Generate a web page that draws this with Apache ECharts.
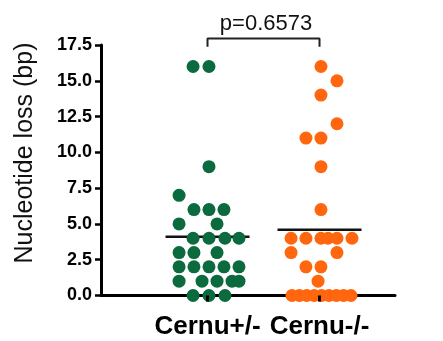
<!DOCTYPE html>
<html>
<head>
<meta charset="utf-8">
<script src="https://cdn.jsdelivr.net/npm/echarts@6/dist/echarts.min.js"></script>
<style>html,body{margin:0;padding:0;background:#fff}#c{width:443px;height:341px}</style>
</head>
<body>
<div id="c"></div>
<script>
// ---- data ----
const categories = ['Cernu+/-', 'Cernu-/-'];
const yTicks = [0, 2.5, 5, 7.5, 10, 12.5, 15, 17.5];
const yAxisTitle = 'Nucleotide loss (bp)';
const pValueText = 'p=0.6573';
// nucleotide loss per clone (bp)
const greenValues = [16, 16, 9, 7, 6, 6, 6, 5, 5, 4, 4, 4, 4, 3, 3, 3, 2, 2, 2, 2, 2, 1, 1, 1, 1, 1, 0, 0, 0];
// horizontal scatter (jitter) of each dot, in fractions of the group spacing
const greenJitter = [-0.129, 0.013, 0.013, -0.254, -0.121, 0.013, 0.147, -0.254, 0.085,
  -0.129, 0.013, 0.156, 0.281, -0.254, -0.121, 0.085,
  -0.254, -0.121, 0.013, 0.147, 0.281, -0.254, -0.049, 0.085, 0.219, 0.281,
  -0.129, 0.013, 0.156];
const orangeValues = [16, 15, 14, 12, 11, 11, 9, 6, 4, 4, 4, 4, 4, 4, 3, 3, 2, 2, 1, 0, 0, 0, 0, 0, 0, 0, 0, 0];
const orangeJitter = [0.013, 0.156, 0.013, 0.156, -0.121, 0.013, 0.013, 0.013,
  -0.254, -0.121, 0.013, 0.076, 0.156, 0.290, -0.254, 0.156, -0.121, 0.013, -0.013,
  -0.246, -0.180, -0.114, -0.048, 0.018, 0.084, 0.150, 0.215, 0.281];
const meanValues = [4.1, 4.6];

// ---- build chart ----
const GREEN = '#0b6a3e', ORANGE = '#ff660e';
const pts = (vals, jit, g) => vals.map((v, i) => [g + jit[i], v]);
const meanLine = (g, m) => [[g - 0.375, m], [g + 0.375, m]];

const chart = echarts.init(document.getElementById('c'), null, {renderer: 'canvas'});
chart.setOption({
  animation: false,
  backgroundColor: '#fff',
  grid: {left: 101, right: 48, top: 45, bottom: 45.5, containLabel: false, outerBoundsMode: 'none'},
  title: {
    text: pValueText, left: 261, top: 8, textAlign: 'center',
    textStyle: {fontFamily: 'Liberation Sans', fontSize: 22, fontWeight: 'normal', color: '#111'}
  },
  graphic: [{
    type: 'text', x: 25, y: 153, rotation: Math.PI / 2,
    style: {text: yAxisTitle, fontFamily: 'Liberation Sans', fontSize: 25, fill: '#111',
            align: 'center', verticalAlign: 'middle'}
  }],
  xAxis: [{
    type: 'value', min: 0.049, max: 2.674,
    splitLine: {show: false},
    axisLine: {show: true, onZero: false, lineStyle: {color: '#000', width: 3}},
    axisTick: {show: false},
    axisLabel: {
      show: true, customValues: [1, 2], margin: 18,
      formatter: v => categories[Math.round(v) - 1] || '',
      fontFamily: 'Liberation Sans', fontSize: 26, fontWeight: 'bold', color: '#000'
    }
  }, {
    type: 'value', min: 0.049, max: 2.674, position: 'bottom', z: 10,
    splitLine: {show: false},
    axisLine: {show: false},
    axisTick: {show: true, customValues: [1, 2], length: 6, inside: false, lineStyle: {color: '#000', width: 3}},
    axisLabel: {show: false}
  }],
  yAxis: {
    type: 'value', min: 0, max: 17.5, interval: 2.5,
    splitLine: {show: false},
    axisLine: {show: true, onZero: false, lineStyle: {color: '#000', width: 3}},
    axisTick: {show: true, length: 6, lineStyle: {color: '#000', width: 2.5}},
    axisLabel: {
      margin: 9, formatter: v => (yTicks.indexOf(v) >= 0 ? v.toFixed(1) : ''),
      fontFamily: 'Liberation Sans', fontSize: 18, fontWeight: 'bold', color: '#000'
    }
  },
  series: [
    {type: 'line', data: meanLine(1, meanValues[0]), symbol: 'none', z: 1,
     lineStyle: {color: '#111', width: 2.5}},
    {type: 'line', data: meanLine(2, meanValues[1]), symbol: 'none', z: 1,
     lineStyle: {color: '#111', width: 2.5}},
    {type: 'scatter', data: pts(greenValues, greenJitter, 1), symbolSize: 13, z: 3,
     itemStyle: {color: GREEN, opacity: 1}},
    {type: 'scatter', data: pts(orangeValues, orangeJitter, 2), symbolSize: 13, z: 3,
     itemStyle: {color: ORANGE, opacity: 1}},
    {type: 'line', clip: false, symbol: 'none', z: 4,
     data: [[1, 17.38], [1, 17.96], [2, 17.96], [2, 17.38]],
     lineStyle: {color: '#222', width: 2}}
  ]
});
</script>
</body>
</html>
